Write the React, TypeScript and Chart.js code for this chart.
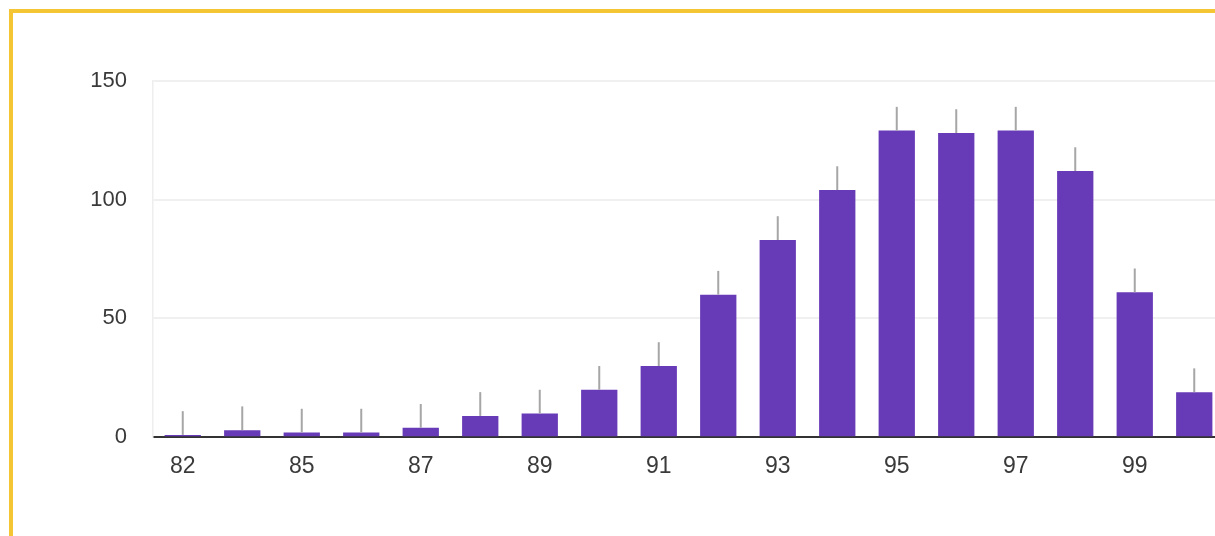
import React, { useEffect, useRef } from "react";
import { Chart, registerables } from "chart.js";

Chart.register(...registerables);

const categories: string[] = ["82", "84", "85", "86", "87", "88", "89", "90", "91", "92", "93", "94", "95", "96", "97", "98", "99", "100"];
const counts: number[] = [1, 3, 2, 2, 4, 9, 10, 20, 30, 60, 83, 104, 129, 128, 129, 112, 61, 19];
const shownLabels: string[] = ["82", "85", "87", "89", "91", "93", "95", "97", "99"];
const yTicks: number[] = [0, 50, 100, 150];
const stemLength = 10;

const stemPlugin = {
  id: "stems",
  afterDatasetsDraw(chart: any) {
    const meta = chart.getDatasetMeta(0);
    const yScale = chart.scales.y;
    const ctx = chart.ctx;
    ctx.save();
    ctx.strokeStyle = "#a6a6a6";
    ctx.lineWidth = 2;
    meta.data.forEach((bar: any, i: number) => {
      const v = counts[i];
      const y0 = yScale.getPixelForValue(v);
      const y1 = yScale.getPixelForValue(v + stemLength);
      ctx.beginPath();
      ctx.moveTo(bar.x, y0);
      ctx.lineTo(bar.x, y1);
      ctx.stroke();
    });
    ctx.restore();
  },
};

export default function App() {
  const ref = useRef<HTMLCanvasElement | null>(null);

  useEffect(() => {
    document.body.style.overflow = "hidden";
    const canvas = ref.current;
    if (!canvas) return;
    const chart = new Chart(canvas, {
      type: "bar",
      data: {
        labels: categories,
        datasets: [
          {
            data: counts,
            backgroundColor: "#673ab7",
            borderWidth: 0,
            categoryPercentage: 1,
            barPercentage: 0.61,
          },
        ],
      },
      options: {
        animation: false,
        responsive: false,
        devicePixelRatio: 1,
        layout: { padding: { left: 0, top: 80.7, right: 16, bottom: 0 } },
        plugins: { legend: { display: false }, tooltip: { enabled: false } },
        scales: {
          x: {
            grid: { display: false, drawTicks: false },
            border: { display: true, color: "#333333", width: 2 },
            ticks: {
              autoSkip: false,
              maxRotation: 0,
              padding: 16,
              color: "#3a3a3a",
              font: { family: "'Liberation Sans', Arial, sans-serif", size: 23 },
              callback: (_v: any, i: number) => (shownLabels.includes(categories[i]) ? categories[i] : ""),
            },
            afterFit: (scale: any) => {
              scale.height = 536 - 437.3;
            },
          },
          y: {
            min: 0,
            max: 150,
            afterBuildTicks: (scale: any) => {
              scale.ticks = yTicks.map((v) => ({ value: v }));
            },
            grid: { color: "#f0f0f0", lineWidth: 2, drawTicks: false },
            border: { display: true, color: "#eeeeee", width: 1.5 },
            ticks: {
              padding: 26,
              color: "#3a3a3a",
              font: { family: "'Liberation Sans', Arial, sans-serif", size: 22 },
            },
            afterFit: (scale: any) => {
              scale.width = 153;
            },
          },
        },
      },
      plugins: [stemPlugin],
    });
    return () => chart.destroy();
  }, []);

  return (
    <div style={{ position: "fixed", left: 0, top: 0, width: 1215, height: 536, overflow: "hidden", background: "#ffffff" }}>
      <div
        style={{
          position: "absolute",
          left: 9,
          top: 9,
          width: 1400,
          height: 800,
          border: "4px solid #f4c534",
          boxSizing: "border-box",
        }}
      />
      <canvas ref={ref} width={1240} height={536} style={{ position: "absolute", left: 0, top: 0 }} />
    </div>
  );
}
